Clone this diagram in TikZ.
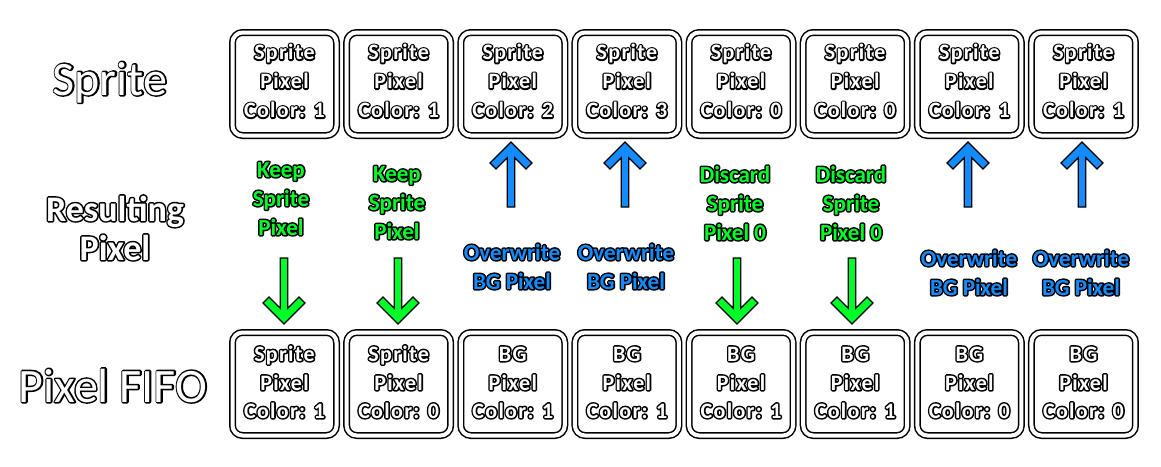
\documentclass[tikz,border=0pt]{standalone}
\usepackage{fontspec}
\setmainfont{Carlito}
\newfontfamily\boxfont[LetterSpace=6]{Carlito}
\newfontfamily\tagfont{Carlito}
\definecolor{kgreen}{RGB}{0,255,40}
\definecolor{kblue}{RGB}{20,140,255}
\newcommand\otxt[3][3]{{\color{#2}\rlap{\special{pdf:literal direct 0 0 0 RG #1 w 1 j 2 Tr}#3\special{pdf:literal direct 0 Tr}}#3}}
\tikzset{
  cell/.style={draw=black, double=white, double distance=4pt, line width=1.5pt,
    rounded corners=10pt, minimum width=104pt, minimum height=103pt, inner sep=0pt, fill=white},
  boxt/.style={anchor=base, inner sep=0pt, font={\fontsize{22}{26}\boxfont\bfseries}},
  tagt/.style={anchor=base, inner sep=0pt, font={\fontsize{23}{27}\tagfont\bfseries}},
  bigt/.style={anchor=base, inner sep=0pt, font={\fontsize{48}{56}\selectfont}},
  midt/.style={anchor=base, inner sep=0pt, font={\fontsize{36}{40}\selectfont\bfseries}},
  arrowshape/.pic={
    \filldraw[line width=1.3pt, line join=miter, draw=black, fill=\pgfkeysvalueof{/tikz/arrfill}]
      (0,0) -- (21,-21) -- (15,-27) -- (3.8,-15.8) -- (3.8,-\pgfkeysvalueof{/tikz/arrlen})
      -- (-3.8,-\pgfkeysvalueof{/tikz/arrlen}) -- (-3.8,-15.8) -- (-15,-27) -- (-21,-21) -- cycle;
  },
  arrfill/.initial=kgreen,
  arrlen/.initial=66
}
\begin{document}
\begin{tikzpicture}[x=1pt,y=-1pt]
\useasboundingbox (0,0) rectangle (1161,466);
% left labels
\node[bigt] (lsprite) at (110,95) {\otxt{white}{Sprite}};
\node[midt] (lres1) at (115,221) {\otxt{white}{Resulting}};
\node[midt] (lres2) at (115,260) {\otxt{white}{Pixel}};
\node[bigt] (lfifo) at (113,402) {\otxt{white}{Pixel FIFO}};
% sprite row
\foreach \i/\c in {0/1,1/1,2/2,3/3,4/0,5/0,6/1,7/1}{
  \pgfmathsetmacro\cx{284.5+114.14*\i}
  \node[cell] (s\i) at (\cx,84) {};
  \node[boxt] (s\i a) at (\cx,59.5) {\otxt{white}{Sprite}};
  \node[boxt] (s\i b) at (\cx,88.5) {\otxt{white}{Pixel}};
  \node[boxt] (s\i c) at (\cx,117.5) {\otxt{white}{Color: \c}};
}
% fifo row
\foreach \i/\t/\c in {0/Sprite/1,1/Sprite/0,2/BG/1,3/BG/1,4/BG/1,5/BG/1,6/BG/0,7/BG/0}{
  \pgfmathsetmacro\cx{284.5+114.14*\i}
  \node[cell] (f\i) at (\cx,384) {};
  \node[boxt] (f\i a) at (\cx,361) {\otxt{white}{\t}};
  \node[boxt] (f\i b) at (\cx,390) {\otxt{white}{Pixel}};
  \node[boxt] (f\i c) at (\cx,418) {\otxt{white}{Color: \c}};
}
% keep labels
\foreach \k/\x/\y in {0/281/177,1/397/181}{
  \node[tagt] (k\k a) at (\x,\y) {\otxt{kgreen}{Keep}};
  \node[tagt] (k\k b) at (\x,\y+29) {\otxt{kgreen}{Sprite}};
  \node[tagt] (k\k c) at (\x,\y+58) {\otxt{kgreen}{Pixel}};
}
% discard labels
\foreach \k/\x/\y in {0/735/182,1/851/182}{
  \node[tagt] (d\k a) at (\x,\y) {\otxt{kgreen}{Discard}};
  \node[tagt] (d\k b) at (\x,\y+29) {\otxt{kgreen}{Sprite}};
  \node[tagt] (d\k c) at (\x,\y+58) {\otxt{kgreen}{Pixel 0}};
}
% overwrite labels
\foreach \k/\x/\y in {0/512/260,1/626/260,2/969/266,3/1081/266}{
  \node[tagt] (o\k a) at (\x,\y) {\otxt{kblue}{Overwrite}};
  \node[tagt] (o\k b) at (\x,\y+29) {\otxt{kblue}{BG Pixel}};
}
% arrows
\foreach \x in {284,398,737,852}{
  \pic[arrfill=kgreen, arrlen=66] at (\x,324) {arrowshape};
}
\foreach \x in {511,625,968,1082}{
  \pic[arrfill=kblue, arrlen=65, rotate=180] at (\x,142) {arrowshape};
}
\end{tikzpicture}
\end{document}
